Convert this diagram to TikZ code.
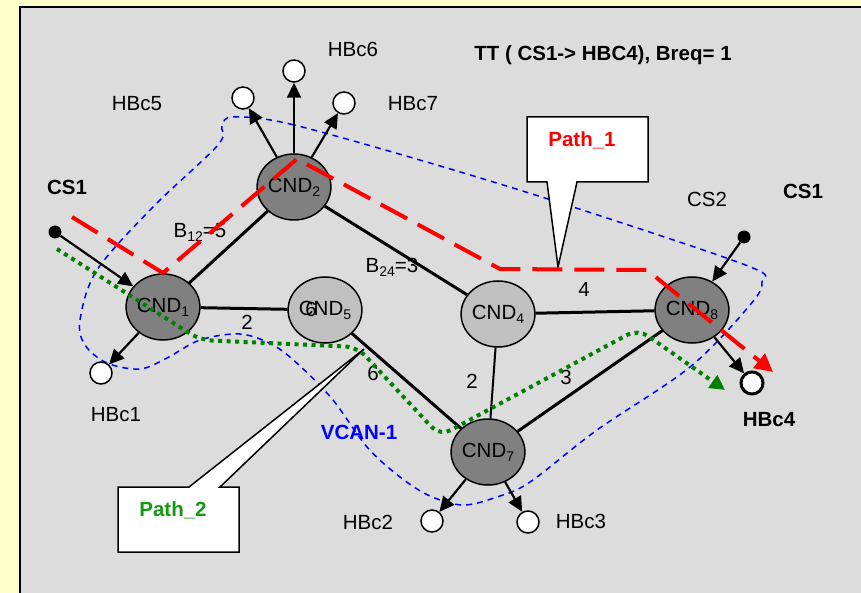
\documentclass[tikz,border=0pt]{standalone}
\usepackage{fontspec}
\setmainfont{Liberation Sans}
\usetikzlibrary{arrows.meta,shapes.geometric}
\definecolor{bgyellow}{HTML}{FFFFCC}
\definecolor{panelgray}{HTML}{DCDCDC}
\definecolor{nodedark}{HTML}{808080}
\definecolor{nodelight}{HTML}{C0C0C0}
\definecolor{pathgreen}{HTML}{008000}
\definecolor{labgreen}{HTML}{119911}
\newcommand\mysub[1]{\raisebox{-4pt}{\fontsize{14}{14}\selectfont #1}}
\begin{document}
\begin{tikzpicture}[x=1pt,y=-1pt, font=\fontsize{20.5}{24}\selectfont,
  cnd/.style={ellipse, draw=black, line width=1.5pt, minimum width=72pt, minimum height=66pt, inner sep=0pt},
  darknode/.style={cnd, fill=nodedark},
  lightnode/.style={cnd, fill=nodelight},
  hbc/.style={circle, draw=black, line width=1.5pt, fill=white, minimum size=22pt, inner sep=0pt},
  csdot/.style={circle, fill=black, minimum size=13pt, inner sep=0pt},
  link/.style={line width=3pt},
  arr/.style={line width=2.2pt, -{Triangle[length=15pt,width=14pt]}},
  lbl/.style={inner sep=0pt},
  boldlbl/.style={inner sep=0pt, font=\fontsize{20.5}{24}\selectfont\bfseries},
  callout/.style={fill=white, draw=black, line width=1.5pt},
]
\useasboundingbox (0,0) rectangle (861,593);
\fill[bgyellow] (0,0) rectangle (861,593);
\fill[panelgray] (20,7) rectangle (870,600);
\draw[line width=2.5pt] (20,600) -- (20,7) -- (870,7);

% VCAN-1 boundary
\draw[blue, line width=1.5pt, dash pattern=on 6pt off 5pt]
  plot[smooth cycle, tension=0.55] coordinates {
  (233,117) (290,124) (430,163) (573,207) (748,266) (762,282) (750,305)
  (690,367) (597,430) (530,482) (497,497) (463,505) (430,496) (400,477)
  (367,447) (333,400) (300,366) (273,345) (240,334) (200,340) (167,358)
  (140,369) (107,363) (85,345) (80,320) (97,270) (153,207) (218,145) (222,126)};

% nodes
\node[darknode] (c2) at (294,187) {CND\mysub{2}};
\node[darknode] (c1) at (163,307) {CND\mysub{1}};
\node[lightnode] (c5) at (325,310) {CND\mysub{5}};
\node[lightnode] (c4) at (498,314) {CND\mysub{4}};
\node[darknode] (c8) at (692,310) {CND\mysub{8}};
\node[darknode] (c7) at (488,452) {CND\mysub{7}};

\node[hbc] (h5) at (243,98) {};
\node[hbc] (h6) at (294,71) {};
\node[hbc] (h7) at (344,103) {};
\node[hbc] (h1) at (101,373) {};
\node[hbc] (h2) at (432,521) {};
\node[hbc] (h3) at (528,522) {};
\node[hbc, line width=3pt] (h4) at (752,383) {};
\node[csdot] (cs1) at (55,232) {};
\node[csdot] (cs2) at (744,237) {};

% links
\draw[link] (c1) -- (c2);
\draw[link] (c2) -- (c4);
\draw[link] (c1) -- (c5);
\draw[link] (c5) -- (c7);
\draw[link] (c4) -- (c8);
\draw[link] (c7) -- (c8);
\draw[line width=2pt] (c4) -- (c7);

% arrows
\draw[arr] (cs1) -- (c1);
\draw[arr] (c2) -- (h5);
\draw[arr] (c2) -- (h6);
\draw[arr] (c2) -- (h7);
\draw[arr] (c1) -- (h1);
\draw[arr] (c7) -- (h2);
\draw[arr] (c7) -- (h3);
\draw[arr] (cs2) -- (c8);
\draw[arr] (c8) -- (h4);

% labels
\node[lbl] (lh6) at (353,49) {HBc6};
\node[lbl] (lh5) at (137,104) {HBc5};
\node[lbl] (lh7) at (413,104) {HBc7};
\node[boldlbl] (lcs1) at (67,187) {CS1};
\node[lbl] (lcs2) at (707,199) {CS2};
\node[boldlbl] (lcs1b) at (803,191) {CS1};
\node[boldlbl] (title) at (603,55) {TT ( CS1-> HBC4), Breq= 1};
\node[lbl] (b12) at (200,232) {B\mysub{12}=5};
\node[lbl] (b24) at (392,267) {B\mysub{24}=3};
\node[lbl] (w15) at (247,322) {2};
\node[lbl] (w48) at (584,289) {4};
\node[lbl] (w57) at (373,373) {6};
\node[lbl] (w47) at (472,381) {2};
\node[lbl] (w78) at (566,377) {3};
\node[lbl] (w5) at (311,309) {6};
\node[lbl] (lh1) at (116,415) {HBc1};
\node[boldlbl, text=blue] (vcan) at (359,432) {VCAN-1};
\node[lbl] (lh2) at (368,522) {HBc2};
\node[lbl] (lh3) at (581,521) {HBc3};
\node[boldlbl] (lh4) at (769,420) {HBc4};

% callouts
\draw[callout] (527,117) -- (648,117) -- (648,182) -- (577,182) -- (558,267) -- (547,182) -- (527,182) -- cycle;
\node[boldlbl, text=red] (p1) at (582,140) {Path\_1};
\draw[callout] (118,487) -- (189,487) -- (364,349) -- (220,487) -- (239,487) -- (239,552) -- (118,552) -- cycle;
\node[boldlbl, text=labgreen] (p2) at (173,510) {Path\_2};

% Path_1 (red dashed)
\draw[red, line width=4pt, dash pattern=on 30pt off 12pt, -{Triangle[length=18pt,width=18pt]}]
  (72,217) -- (163,273) -- (297,159) -- (500,269) -- (647,270) -- (773,372);
% Path_2 (green dotted)
\draw[pathgreen, line width=4pt, dash pattern=on 4pt off 4.5pt, rounded corners=12pt, -{Triangle[length=15pt,width=15pt]}]
  (57,249) -- (200,340) -- (357,347) -- (440,436) -- (638,329) -- (725,390);
\end{tikzpicture}
\end{document}
